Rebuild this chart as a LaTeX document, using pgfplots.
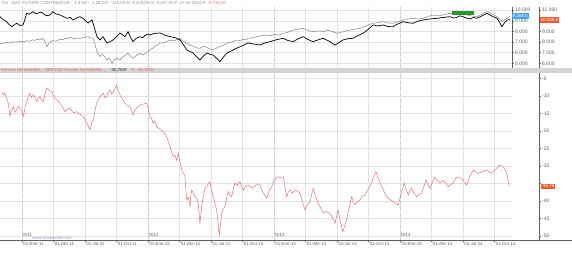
\documentclass[border=0pt]{standalone}
\usepackage{fontspec}
\setmainfont{Liberation Sans}
\usepackage{pgfplots}
\pgfplotsset{compat=1.18}
\definecolor{redline}{RGB}{232,105,105}
\definecolor{gridc}{RGB}{226,226,226}
\definecolor{yeargrid}{RGB}{205,205,205}
\definecolor{grayline}{RGB}{120,120,120}
\definecolor{barc}{RGB}{212,212,212}
\definecolor{labc}{RGB}{95,95,95}
\definecolor{bluebox}{RGB}{70,160,235}
\definecolor{orangebox}{RGB}{235,90,40}
\definecolor{greenbox}{RGB}{40,150,50}
\definecolor{wmark}{RGB}{140,150,190}
\pgfplotsset{
  common/.style={scale only axis, anchor=south west, clip mode=individual,
    tick align=outside, major tick length=2pt, minor tick length=1pt,
    every tick/.style={labc, line width=0.3pt},
    scaled y ticks=false,
    /pgf/number format/1000 sep={.},
    /pgf/number format/assume math mode=true,
    yticklabel style={font=\fontsize{5}{6}\selectfont, text=labc, inner sep=1pt},
  },
}
\begin{document}
\begin{tikzpicture}[x=1pt,y=1pt]
\useasboundingbox (0,0) rectangle (572,256);
\fill[barc] (0,183) rectangle (572,188);
\node[anchor=west, inner sep=0pt, font=\fontsize{4.3}{5}\selectfont, text=redline] at (1,185.5)
  {Percent Spread(Abs... (IBEX35) Percent Spread(Abs...\quad\textcolor{black!80}{-35,7587}\quad P: -35,3605};
\node[anchor=west, inner sep=0pt, font=\fontsize{4.3}{5}\selectfont, text=black!45] at (2,252.5)
  {DX - DAX FUTURE CONTINUOUS -\enspace 1 d Dif.: -1,18 Dif.: -110,50 M: 9.449,00 m: 9.257,50 F: 27-11-2014 \textcolor{redline}{P: -4.735,00}};

% ---------- top panel: gray series (price scale at 512)
\begin{axis}[common, at={(0pt,188pt)}, width=512pt, height=61pt,
  xmin=-2.095, xmax=46.67, ymin=4560, ymax=10281,
  axis y line*=right, axis x line*=bottom, x axis line style={draw=none},
  y axis line style={labc, line width=0.3pt},
  xtick={-3,0,...,45}, xticklabels={}, xtick style={draw=none},
  extra x ticks={0,12,24,36}, extra x tick labels={},
  extra x tick style={grid style={yeargrid, dashed, line width=0.3pt}, tick style={draw=none}},
  ytick={5000,6000,...,10000}, minor y tick num=4,
  grid=major, grid style={gridc, line width=0.3pt}]
\addplot[grayline, line width=0.45pt] coordinates {
(-2.10,6876) (-1.8,6820) (-1.5,6950) (-1.2,6900) (-0.86,7027) (-0.5,6980) (-0.3,7080) (0.1,7020) (0.48,7120) (0.8,7080) (1.0,7200) (1.2,7150) (1.43,7252) (1.7,7200) (2.0,7346)
(2.2,7000) (2.38,6558) (2.6,6900) (2.86,7120) (3.2,7080) (3.62,7252) (3.9,7200) (4.1,7350) (4.3,7300) (4.57,7439) (5.0,7300) (5.2,7380) (5.52,7346) (5.9,7420) (6.29,7496)
(6.5,7380) (6.76,7346) (6.95,6800) (7.14,6089) (7.43,5620) (7.6,5900) (7.8,5700) (8.10,5310) (8.3,5500) (8.57,5000) (8.8,5350) (9.05,5470) (9.3,5300) (9.62,5620)
(9.9,5800) (10.10,5938) (10.3,5700) (10.57,5470) (10.9,5750) (11.24,5938) (11.5,5800) (11.7,5900) (12.0,6100) (12.19,6248) (12.5,6450) (12.7,6600) (13.0,6750) (13.14,6876) (13.6,6950) (14.10,7186)
(14.5,7100) (15.05,7346) (15.3,7100) (15.71,6876) (16.0,6700) (16.3,6600) (16.6,6450) (16.95,6407) (17.3,6600) (17.6,6500) (17.9,6350) (18.19,6248) (18.5,6400) (18.8,6550) (19.2,6700) (19.52,6876)
(20.0,7000) (20.48,7186) (20.8,7100) (21.0,7250) (21.3,7200) (21.52,7346) (22.0,7400) (22.4,7500) (22.8,7600) (23.33,7655) (23.7,7600) (24.1,7700) (24.5,7650) (24.86,7814) (25.3,7900) (25.81,8124)
(26.3,8200) (26.76,8283) (27.2,8100) (27.71,7965) (28.0,8000) (28.4,8050) (28.7,7950) (29.05,8124) (29.5,8000) (30.0,7814) (30.3,7900) (30.6,7950) (30.9,8050) (31.24,8124) (31.7,8200) (32.19,8283)
(32.5,8400) (32.8,8500) (33.1,8650) (33.43,8752) (33.9,8800) (34.38,8903) (34.8,8800) (35.33,8752) (35.8,8900) (36.0,8950) (36.29,9062) (36.7,9150) (37.24,9221) (37.7,9150) (38.19,9221)
(38.7,9400) (39.14,9531) (39.6,9450) (40.10,9531) (40.4,9600) (40.76,9690) (41.1,9620) (41.4,9600) (41.7,9650) (42.0,9531) (42.3,9550) (42.7,9450) (43.0,9420) (43.33,9372)
(43.8,9600) (44.29,9841) (44.6,9750) (44.8,9600) (45.0,9500) (45.24,9372) (45.5,9100) (45.71,8903) (45.9,9050) (46.19,9221) (46.48,9400)
};
\node[fill=greenbox, inner sep=0.6pt, minimum width=22pt, minimum height=4pt]
  at (axis cs:42.0,9672) {};
\node[fill=bluebox, text=white, font=\fontsize{4.5}{5}\selectfont, inner sep=0.7pt, anchor=west]
  at (axis cs:46.67,9437) {9.268,5};
\end{axis}

% ---------- top panel: black series (price scale at 539)
\begin{axis}[common, at={(0pt,188pt)}, width=539pt, height=61pt,
  xmin=-2.095, xmax=49.24, ymin=5560, ymax=11281,
  axis y line*=right, axis x line=none,
  y axis line style={labc, line width=0.3pt},
  ytick={6000,7000,...,11000}, yticklabels={6.000,7.000,8.000,9.000,{},11.000}, minor y tick num=4]
\addplot[black, line width=0.7pt] coordinates {
(-2.10,10372) (-1.8,10100) (-1.46,9903) (-1.2,9600) (-0.98,9434) (-0.7,9650) (-0.50,9752) (-0.2,9550) (0.10,9593) (0.3,10200) (0.45,10690) (0.7,10600) (1.05,10841) (1.3,10650) (1.5,10700)
(1.8,10800) (2.0,10690) (2.3,10450) (2.67,10531) (2.95,10841) (3.2,10650) (3.62,10531) (3.9,10400) (4.29,10221) (4.6,10300) (4.86,10062) (5.2,10250) (5.52,10372) (5.9,10150)
(6.1,9950) (6.29,9781) (6.5,9950) (6.67,10062) (6.9,9300) (7.14,8496) (7.43,8186) (7.71,8496) (7.9,8200) (8.10,7905) (8.4,8050) (8.67,8186) (9.0,8500) (9.33,8843)
(9.6,8650) (9.81,8496) (10.10,8965) (10.3,8500) (10.57,8027) (10.9,8350) (11.24,8496) (11.5,8400) (11.7,8600) (12.0,8750) (12.19,8655) (12.6,8800) (13.14,8843) (13.6,8650)
(14.10,8496) (14.6,8400) (15.05,8186) (15.4,7700) (15.71,7248) (16.0,7100) (16.29,6967) (16.6,6650) (16.95,6310) (17.3,6700) (17.62,6967) (17.9,6850) (18.19,6779) (18.5,6500) (18.86,6151)
(19.2,6600) (19.52,6967) (19.8,7100) (20.10,7248) (20.4,7400) (20.76,7558) (21.1,7700) (21.52,7905) (21.8,7850) (22.1,7800) (22.67,7717) (23.1,7900) (23.62,8027) (24.2,8200) (24.86,8345)
(25.3,8150) (25.81,8027) (26.3,8300) (26.76,8496) (27.2,8250) (27.71,8027) (28.2,8200) (28.67,8345) (29.2,8100) (29.81,7717) (30.2,7950) (30.57,8186) (31.0,8300) (31.52,8345)
(32.0,8600) (32.48,8814) (33.0,9200) (33.43,9593) (33.9,9500) (34.38,9593) (34.8,9450) (35.33,9434) (35.8,9700) (36.29,9903) (36.8,9800) (37.24,9752) (37.7,9950) (38.19,10062) (38.8,10150) (39.52,10221)
(40.1,10300) (40.76,10372) (41.1,10250) (41.4,10300) (41.7,10450) (42.0,10372) (42.3,10250) (42.7,10150) (43.0,10300) (43.33,10221) (43.8,10450) (44.29,10690) (44.8,10400)
(45.24,10221) (45.5,9800) (45.71,9434) (45.95,9800) (46.19,10062) (46.48,10100)
};
\node[fill=orangebox, text=white, font=\fontsize{4.5}{5}\selectfont, inner sep=0.7pt, anchor=west]
  at (axis cs:49.3,10062) {10.046,5};
\end{axis}

% ---------- bottom panel: percent spread
\begin{axis}[common, at={(0pt,16pt)}, width=512pt, height=167pt,
  xmin=-2.095, xmax=46.67, ymin=-51.14, ymax=-3.43,
  axis x line*=bottom, axis y line*=right,
  x axis line style={labc, line width=0.3pt}, y axis line style={draw=none},
  ytick={-50,-45,...,-5}, yticklabels={}, ytick style={draw=none},
  xtick={-3,0,...,45},
  xticklabels={'01-Oct-10,'01-Ene-11,'01-Abr-11,'01-Jul-11,'01-Oct-11,'01-Ene-12,'01-Abr-12,'01-Jul-12,'01-Oct-12,'01-Ene-13,'01-Abr-13,'01-Jul-13,'01-Oct-13,'01-Ene-14,'01-Abr-14,'01-Jul-14,'01-Oct-14},
  xticklabel style={font=\fontsize{4.4}{5}\selectfont, text=labc, anchor=north west, inner sep=0.5pt, xshift=-0.3pt},
  extra x ticks={0,12,24,36}, extra x tick labels={},
  extra x tick style={grid style={yeargrid, dashed, line width=0.3pt}},
  grid=major, grid style={gridc, line width=0.3pt}]
\addplot[redline, line width=0.45pt] coordinates {
(-1.93,-8.8) (-1.75,-9.6) (-1.62,-9.2) (-1.45,-10.8) (-1.30,-12.1) (-1.14,-15.9) (-1.0,-14.2) (-0.83,-13.1) (-0.65,-14.6) (-0.50,-14.0) (-0.35,-13.0) (-0.19,-13.5) (0.0,-14.4) (0.12,-15.9)
(0.3,-13.2) (0.45,-11.6) (0.6,-10.1) (0.76,-9.2) (0.9,-10.4) (1.08,-9.7) (1.25,-10.6) (1.40,-11.6) (1.55,-10.6) (1.71,-10.2) (1.85,-11.0) (2.03,-11.6) (2.2,-9.4) (2.35,-7.8) (2.55,-8.3) (2.83,-8.8)
(3.0,-9.9) (3.14,-10.7) (3.4,-11.3) (3.62,-12.1) (3.85,-13.0) (4.10,-14.5) (4.3,-13.8) (4.57,-13.5) (4.9,-14.8) (5.21,-14.5) (5.5,-15.1) (5.84,-15.9) (6.0,-16.6) (6.16,-17.8) (6.3,-18.5) (6.48,-19.7)
(6.65,-17.6) (6.79,-16.9) (6.95,-14.2) (7.11,-12.1) (7.27,-11.0) (7.43,-10.2) (7.6,-9.6) (7.74,-9.2) (7.9,-10.5) (8.07,-10.2) (8.2,-9.0) (8.38,-8.3) (8.55,-9.4) (8.70,-8.8) (8.85,-7.8) (9.02,-6.9)
(9.15,-8.5) (9.33,-9.7) (9.55,-10.8) (9.81,-12.1) (10.05,-12.7) (10.29,-13.1) (10.45,-14.3) (10.60,-15.4) (10.75,-14.0) (10.92,-13.5) (11.1,-12.9) (11.24,-12.6) (11.55,-12.3) (11.88,-12.1) (12.05,-14.0) (12.19,-15.9)
(12.35,-16.5) (12.50,-17.8) (12.65,-17.2) (12.83,-18.8) (13.1,-19.4) (13.46,-20.2) (13.6,-20.8) (13.78,-21.6) (13.95,-23.2) (14.10,-24.5) (14.25,-26.1) (14.41,-27.3) (14.55,-27.0) (14.73,-28.3) (14.89,-26.4)
(15.05,-29.0) (15.21,-31.1) (15.35,-31.8) (15.52,-33.1) (15.6,-36.5) (15.69,-39.7) (15.85,-38.9) (16.00,-41.6) (16.08,-38.5) (16.16,-36.9) (16.3,-37.6) (16.48,-38.8) (16.65,-39.2) (16.79,-40.7) (16.87,-43.5) (16.95,-46.4)
(17.1,-41.9) (17.27,-38.8) (17.42,-36.4) (17.59,-35.9) (17.75,-35.0) (17.90,-34.5) (18.05,-36.8) (18.22,-38.8) (18.38,-40.6) (18.54,-42.6) (18.67,-46.0) (18.79,-49.7) (18.9,-46.8) (19.02,-43.5) (19.17,-42.4) (19.33,-41.6)
(19.5,-39.0) (19.65,-37.3) (19.8,-38.2) (19.97,-38.8) (20.13,-36.5) (20.29,-34.9) (20.5,-35.6) (20.76,-34.5) (20.9,-35.8) (21.08,-36.9) (21.3,-35.9) (21.55,-35.4) (21.8,-36.0) (22.03,-36.4) (22.35,-35.1) (22.67,-35.4)
(22.95,-37.5) (23.30,-39.2) (23.55,-37.2) (23.78,-35.9) (24.0,-34.3) (24.26,-33.1) (24.55,-33.3) (24.89,-33.1) (25.05,-36.0) (25.21,-38.8) (25.35,-37.5) (25.52,-36.9) (25.75,-37.7) (26.00,-36.9) (26.25,-37.1) (26.48,-37.8)
(26.7,-40.0) (26.95,-42.6) (27.2,-41.0) (27.43,-40.2) (27.6,-38.0) (27.74,-36.4) (27.95,-38.5) (28.22,-40.7) (28.45,-42.0) (28.70,-43.5) (29.0,-43.0) (29.33,-43.5) (29.55,-44.6) (29.81,-46.4) (29.95,-44.5) (30.12,-42.6)
(30.3,-45.5) (30.54,-48.8) (30.75,-47.0) (30.92,-45.4) (31.15,-42.0) (31.40,-38.8) (31.55,-40.3) (31.71,-41.1) (31.95,-40.2) (32.19,-39.7) (32.4,-38.6) (32.67,-38.3) (32.9,-37.0) (33.14,-35.9) (33.4,-33.8) (33.71,-31.6)
(33.9,-33.3) (34.10,-34.9) (34.4,-36.8) (34.73,-38.8) (35.0,-39.5) (35.36,-40.2) (35.6,-40.8) (35.84,-41.1) (36.1,-38.0) (36.41,-34.9) (36.6,-36.6) (36.79,-38.3) (36.95,-37.0) (37.11,-36.4) (37.35,-37.9) (37.59,-38.8)
(37.8,-38.1) (38.07,-37.8) (38.28,-35.8) (38.48,-34.0) (38.65,-35.4) (38.86,-36.4) (39.1,-34.5) (39.33,-33.2) (39.55,-34.0) (39.81,-34.9) (40.05,-34.2) (40.29,-34.5) (40.45,-35.3) (40.60,-35.9) (40.85,-35.2) (41.08,-34.9)
(41.25,-33.7) (41.40,-33.1) (41.65,-33.4) (41.88,-33.5) (42.1,-34.6) (42.35,-35.4) (42.65,-33.0) (42.98,-31.1) (43.2,-31.7) (43.46,-32.1) (43.7,-31.8) (43.93,-31.6) (44.1,-31.3) (44.26,-31.1) (44.5,-31.8) (44.73,-32.1)
(44.95,-31.3) (45.21,-30.7) (45.35,-30.1) (45.52,-29.7) (45.68,-29.9) (45.84,-30.2) (46.0,-31.0) (46.16,-32.1) (46.3,-34.0) (46.41,-35.76)
};
\node[anchor=south west, inner sep=0.5pt, font=\fontsize{4.4}{5}\selectfont, text=labc] at (axis cs:0,-50.4) {2011};
\node[anchor=south west, inner sep=0.5pt, font=\fontsize{4.4}{5}\selectfont, text=labc] at (axis cs:12,-50.4) {2012};
\node[anchor=south west, inner sep=0.5pt, font=\fontsize{4.4}{5}\selectfont, text=labc] at (axis cs:24,-50.4) {2013};
\node[anchor=south west, inner sep=0.5pt, font=\fontsize{4.4}{5}\selectfont, text=labc] at (axis cs:36,-50.4) {2014};
\node[anchor=south west, inner sep=0.3pt, font=\fontsize{4.2}{5}\itshape, text=wmark] at (axis cs:0.95,-51.14) {www.visualchart.com};
\end{axis}

% ---------- bottom panel: price scale at 539
\begin{axis}[common, at={(0pt,16pt)}, width=539pt, height=167pt,
  xmin=0, xmax=1, ymin=-51.14, ymax=-3.43,
  axis y line*=right, axis x line=none,
  y axis line style={labc, line width=0.3pt},
  ytick={-50,-45,...,-5}, yticklabels={-50,-45,-40,{},-30,-25,-20,-15,-10,-5}, minor y tick num=4]
\node[fill=orangebox, text=white, font=\fontsize{4.5}{5}\selectfont, inner sep=0.7pt, anchor=west]
  at (axis cs:1.003,-35.76) {-35,76};
\end{axis}
\draw[labc, line width=0.3pt] (512,16) -- (572,16);
\end{tikzpicture}
\end{document}
